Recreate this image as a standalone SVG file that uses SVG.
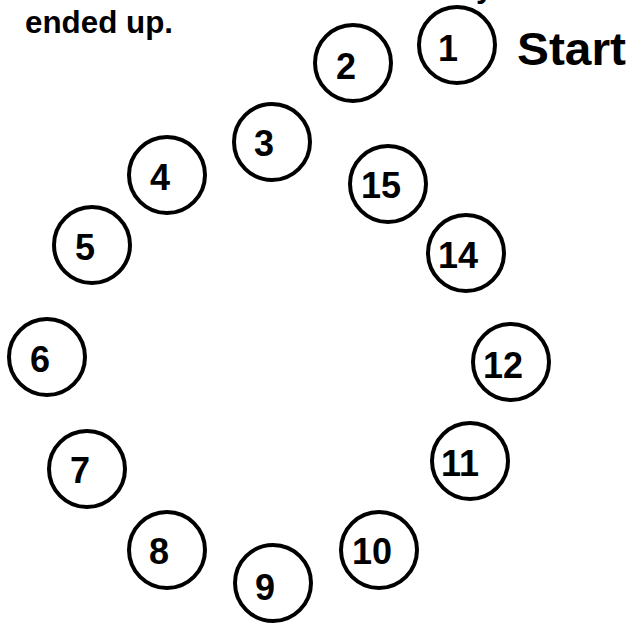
<svg xmlns="http://www.w3.org/2000/svg" width="629" height="624" viewBox="0 0 629 624">
<style>
.n circle{fill:#fff;stroke:#000;stroke-width:4}
.n text{font-family:"Liberation Sans",Arial,sans-serif;font-weight:bold;font-size:36px;text-anchor:middle;dominant-baseline:central;fill:#000}
.t{font-family:"Liberation Sans",Arial,sans-serif;font-weight:bold;fill:#000}
</style>
<rect width="629" height="624" fill="#fff"/>
<text class="t" x="476" y="-3" font-size="31">y</text>
<text class="t" x="25" y="33" font-size="31" textLength="148" lengthAdjust="spacingAndGlyphs">ended up.</text>
<text class="t" x="517" y="65" font-size="46" textLength="109" lengthAdjust="spacingAndGlyphs">Start</text>
<g id="connectors"></g>
<g id="n1" class="n"><circle cx="457" cy="45" r="38"/><text x="448" y="48">1</text></g>
<g id="n2" class="n"><circle cx="353" cy="63" r="38"/><text x="346" y="66">2</text></g>
<g id="n3" class="n"><circle cx="272" cy="142" r="38"/><text x="264" y="143">3</text></g>
<g id="n4" class="n"><circle cx="167" cy="175" r="38"/><text x="160" y="177">4</text></g>
<g id="n5" class="n"><circle cx="92" cy="245" r="38"/><text x="85" y="247">5</text></g>
<g id="n6" class="n"><circle cx="47" cy="357" r="38"/><text x="40" y="359">6</text></g>
<g id="n7" class="n"><circle cx="87" cy="469" r="38"/><text x="80" y="470">7</text></g>
<g id="n8" class="n"><circle cx="167" cy="550" r="38"/><text x="159" y="551">8</text></g>
<g id="n9" class="n"><circle cx="273" cy="583" r="38"/><text x="265" y="587">9</text></g>
<g id="n10" class="n"><circle cx="379" cy="550" r="38"/><text x="372" y="551">10</text></g>
<g id="n11" class="n"><circle cx="470" cy="461" r="38"/><text x="460" y="463">11</text></g>
<g id="n12" class="n"><circle cx="511" cy="362" r="38"/><text x="503" y="365">12</text></g>
<g id="n14" class="n"><circle cx="466" cy="253" r="38"/><text x="458" y="255">14</text></g>
<g id="n15" class="n"><circle cx="388" cy="184" r="38"/><text x="381" y="185">15</text></g>
</svg>
